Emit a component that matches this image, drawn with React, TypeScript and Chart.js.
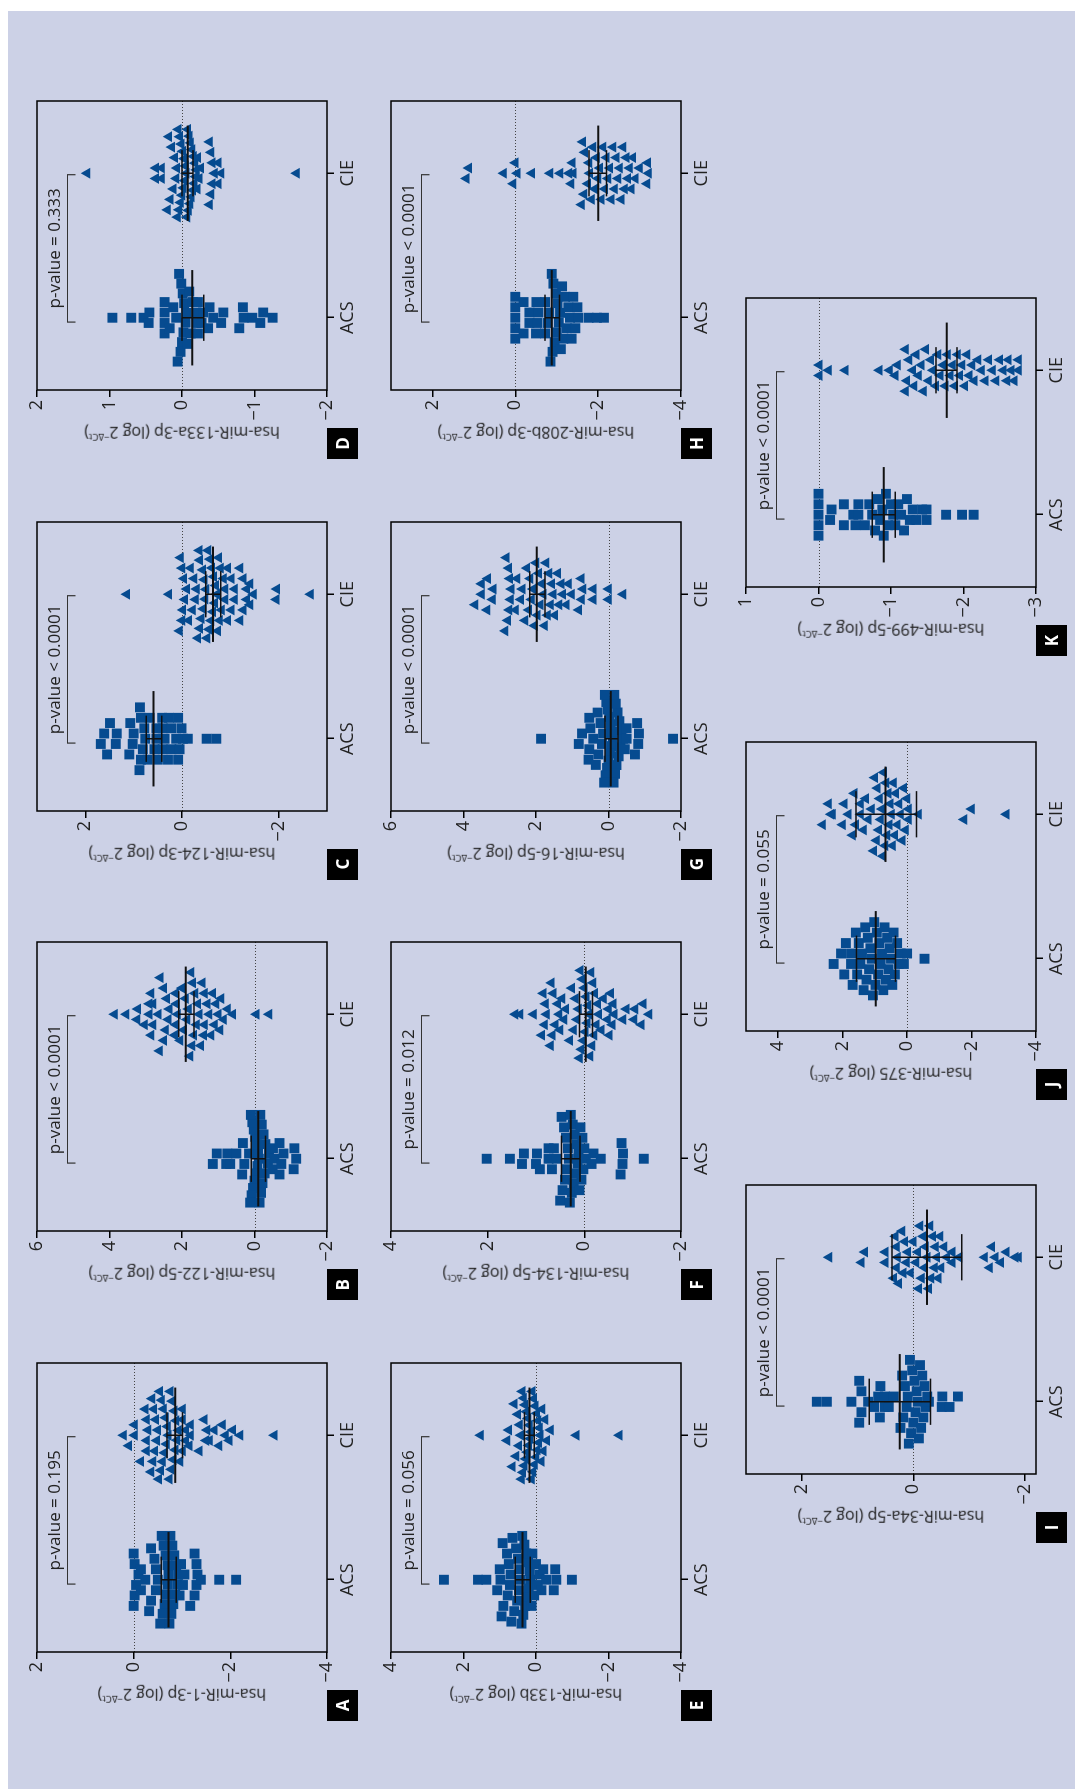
import React, { useEffect, useRef } from "react";
import Chart from "chart.js/auto";

const categories = ["ACS", "CIE"];

// A: hsa-miR-1-3p
const aAcs = [0.0, 0.0, -0.02, -0.02, -0.05, -0.1, -0.15, -0.15, -0.24, -0.32, -0.36, -0.36, -0.43, -0.46, -0.46, -0.5, -0.55, -0.58, -0.6, -0.62, -0.64, -0.66, -0.68, -0.7, -0.7, -0.72, -0.74, -0.76, -0.78, -0.8, -0.82, -0.84, -0.86, -0.88, -0.9, -0.92, -0.95, -0.98, -1.02, -1.05, -1.17, -1.26, -1.26, -1.3, -1.3, -1.32, -1.39, -1.77, -2.12];
const aCie = [0.21, 0.1, -0.02, -0.02, -0.15, -0.24, -0.27, -0.27, -0.27, -0.3, -0.36, -0.38, -0.4, -0.42, -0.44, -0.46, -0.48, -0.5, -0.52, -0.54, -0.56, -0.58, -0.6, -0.62, -0.64, -0.66, -0.68, -0.7, -0.72, -0.74, -0.76, -0.78, -0.8, -0.82, -0.84, -0.86, -0.88, -0.9, -0.93, -0.96, -1.01, -1.01, -1.01, -1.08, -1.08, -1.15, -1.18, -1.18, -1.36, -1.46, -1.5, -1.52, -1.57, -1.67, -1.77, -1.84, -1.9, -1.98, -2.05, -2.2, -2.91];
const aBars = [[-0.72, -0.57, -0.88], [-0.86, -0.69, -1.01]];
const aTicks = [2, 0, -2, -4];

// B: hsa-miR-122-5p
const bAcs = [1.15, 1.04, 0.78, 0.75, 0.67, 0.5, 0.34, 0.32, 0.28, 0.15, 0.12, 0.1, 0.08, 0.06, 0.04, 0.02, 0.0, -0.02, -0.04, -0.06, -0.08, -0.1, -0.12, -0.14, -0.16, -0.18, -0.2, -0.22, -0.25, -0.28, -0.3, -0.37, -0.4, -0.5, -0.51, -0.55, -0.69, -0.69, -0.74, -0.8, -1.08, -1.1, -1.15];
const bCie = [3.86, 3.54, 3.24, 3.22, 3.03, 2.9, 2.9, 2.85, 2.85, 2.8, 2.8, 2.65, 2.62, 2.6, 2.5, 2.5, 2.45, 2.42, 2.38, 2.35, 2.2, 2.17, 2.17, 2.15, 2.12, 2.05, 2.0, 1.95, 1.9, 1.86, 1.82, 1.78, 1.75, 1.72, 1.7, 1.67, 1.64, 1.6, 1.56, 1.52, 1.48, 1.44, 1.4, 1.38, 1.38, 1.3, 1.25, 1.2, 1.15, 1.1, 1.06, 1.0, 0.95, 0.92, 0.85, 0.74, 0.6, -0.05, -0.4];
const bBars = [[-0.1, 0.09, -0.3], [1.9, 2.09, 1.67]];
const bTicks = [6, 4, 2, 0, -2];

// C: hsa-miR-124-3p
const cAcs = [1.68, 1.61, 1.55, 1.49, 1.37, 1.35, 1.09, 1.07, 1.02, 1.0, 0.88, 0.87, 0.85, 0.85, 0.81, 0.78, 0.76, 0.71, 0.67, 0.57, 0.53, 0.53, 0.5, 0.41, 0.4, 0.4, 0.36, 0.29, 0.27, 0.22, 0.22, 0.12, 0.08, 0.08, 0.05, 0.01, -0.02, -0.12, -0.51, -0.71];
const cCie = [1.14, 0.27, 0.05, 0.03, 0.0, 0.0, -0.02, -0.04, -0.06, -0.1, -0.14, -0.18, -0.22, -0.25, -0.28, -0.3, -0.33, -0.36, -0.37, -0.37, -0.4, -0.43, -0.44, -0.46, -0.48, -0.5, -0.52, -0.54, -0.56, -0.58, -0.6, -0.62, -0.64, -0.66, -0.68, -0.7, -0.72, -0.74, -0.76, -0.78, -0.8, -0.82, -0.86, -0.89, -0.89, -0.95, -0.95, -1.02, -1.02, -1.09, -1.09, -1.2, -1.2, -1.27, -1.27, -1.34, -1.34, -1.41, -1.41, -1.48, -1.95, -1.96, -2.66];
const cBars = [[0.59, 0.74, 0.42], [-0.64, -0.49, -0.8]];
const cTicks = [2, 0, -2];

// D: hsa-miR-133a-3p
const dAcs = [0.96, 0.7, 0.53, 0.46, 0.45, 0.24, 0.24, 0.24, 0.24, 0.17, 0.12, 0.08, 0.06, 0.04, 0.02, 0.01, 0.0, -0.01, -0.02, -0.03, -0.05, -0.06, -0.08, -0.1, -0.12, -0.15, -0.2, -0.2, -0.22, -0.22, -0.27, -0.29, -0.36, -0.38, -0.43, -0.54, -0.57, -0.79, -0.84, -0.85, -0.97, -1.08, -1.12, -1.25];
const dCie = [1.31, 0.36, 0.36, 0.28, 0.28, 0.2, 0.18, 0.16, 0.14, 0.12, 0.1, 0.08, 0.07, 0.06, 0.05, 0.04, 0.03, 0.02, 0.01, 0.0, -0.01, -0.02, -0.03, -0.04, -0.05, -0.06, -0.07, -0.08, -0.09, -0.1, -0.11, -0.12, -0.13, -0.14, -0.15, -0.16, -0.17, -0.18, -0.19, -0.2, -0.21, -0.22, -0.24, -0.26, -0.38, -0.38, -0.4, -0.4, -0.42, -0.42, -0.45, -0.5, -0.5, -0.54, -1.58];
const dBars = [[-0.14, 0.0, -0.3], [-0.08, 0.0, -0.15]];
const dTicks = [2, 1, 0, -1, -2];

// E: hsa-miR-133b
const eAcs = [2.54, 1.6, 1.37, 1.07, 1.0, 0.98, 0.95, 0.92, 0.9, 0.8, 0.78, 0.75, 0.72, 0.7, 0.68, 0.65, 0.6, 0.55, 0.52, 0.5, 0.47, 0.45, 0.42, 0.4, 0.38, 0.35, 0.32, 0.3, 0.27, 0.25, 0.22, 0.2, 0.17, 0.15, 0.12, 0.1, 0.05, 0.0, -0.05, -0.1, -0.15, -0.2, -0.28, -0.49, -0.53, -0.56, -0.99];
const eCie = [1.53, 0.8, 0.75, 0.65, 0.6, 0.55, 0.5, 0.47, 0.45, 0.42, 0.4, 0.38, 0.36, 0.34, 0.32, 0.3, 0.28, 0.26, 0.24, 0.22, 0.2, 0.18, 0.16, 0.14, 0.12, 0.1, 0.08, 0.06, 0.04, 0.02, 0.0, -0.02, -0.04, -0.06, -0.08, -0.1, -0.12, -0.15, -0.17, -0.2, -0.25, -0.3, -0.4, -1.11, -2.3];
const eBars = [[0.37, 0.57, 0.16], [0.18, 0.32, 0.05]];
const eTicks = [4, 2, 0, -2, -4];

// F: hsa-miR-134-5p
const fAcs = [2.02, 1.54, 1.29, 1.25, 1.0, 0.98, 0.92, 0.74, 0.74, 0.67, 0.63, 0.57, 0.5, 0.47, 0.45, 0.42, 0.4, 0.38, 0.36, 0.34, 0.32, 0.3, 0.28, 0.26, 0.24, 0.22, 0.2, 0.18, 0.16, 0.14, 0.12, 0.1, 0.08, 0.06, 0.04, 0.02, 0.0, -0.03, -0.15, -0.19, -0.34, -0.75, -0.77, -0.79, -0.8, -1.23];
const fCie = [1.43, 1.33, 1.05, 0.88, 0.85, 0.82, 0.8, 0.78, 0.7, 0.68, 0.66, 0.64, 0.6, 0.55, 0.52, 0.5, 0.46, 0.42, 0.38, 0.3, 0.26, 0.22, 0.18, 0.15, 0.12, 0.1, 0.08, 0.06, 0.04, 0.02, 0.0, -0.02, -0.04, -0.06, -0.08, -0.1, -0.12, -0.14, -0.16, -0.18, -0.2, -0.22, -0.25, -0.28, -0.3, -0.35, -0.4, -0.48, -0.5, -0.52, -0.55, -0.58, -0.6, -0.62, -0.8, -0.87, -1.03, -1.05, -1.18, -1.22, -1.34];
const fBars = [[0.28, 0.47, 0.09], [-0.03, 0.1, -0.17]];
const fTicks = [4, 2, 0, -2];

// G: hsa-miR-16-5p
const gAcs = [1.86, 0.82, 0.73, 0.55, 0.53, 0.53, 0.5, 0.42, 0.35, 0.3, 0.28, 0.22, 0.18, 0.15, 0.12, 0.1, 0.08, 0.06, 0.04, 0.02, 0.0, -0.02, -0.04, -0.06, -0.08, -0.1, -0.12, -0.14, -0.16, -0.18, -0.2, -0.22, -0.25, -0.28, -0.3, -0.33, -0.36, -0.4, -0.45, -0.5, -0.5, -0.73, -0.79, -0.82, -0.84, -1.78];
const gCie = [3.68, 3.5, 3.5, 3.35, 3.33, 3.2, 3.18, 2.85, 2.82, 2.78, 2.75, 2.74, 2.72, 2.7, 2.68, 2.56, 2.52, 2.42, 2.38, 2.3, 2.25, 2.2, 2.16, 2.12, 2.08, 2.04, 2.0, 1.96, 1.92, 1.88, 1.84, 1.8, 1.76, 1.72, 1.68, 1.64, 1.6, 1.56, 1.52, 1.48, 1.4, 1.36, 1.3, 1.26, 1.16, 1.1, 1.02, 0.82, 0.75, 0.74, 0.7, 0.42, 0.42, 0.0, 0.0, -0.4];
const gBars = [[-0.06, 0.1, -0.26], [1.98, 2.17, 1.75]];
const gTicks = [6, 4, 2, 0, -2];

// H: hsa-miR-208b-3p
const hAcs = [0.0, 0.0, 0.0, 0.0, 0.0, -0.2, -0.2, -0.34, -0.34, -0.5, -0.51, -0.53, -0.56, -0.72, -0.72, -0.78, -0.82, -0.85, -0.88, -0.9, -0.92, -0.95, -0.98, -1.0, -1.02, -1.05, -1.08, -1.1, -1.13, -1.16, -1.2, -1.24, -1.28, -1.32, -1.36, -1.4, -1.45, -1.5, -1.52, -1.77, -1.97, -2.14];
const hCie = [1.18, 1.12, 0.28, 0.05, 0.0, -0.05, -0.4, -0.84, -1.08, -1.3, -1.35, -1.38, -1.4, -1.6, -1.63, -1.66, -1.68, -1.75, -1.78, -1.8, -1.84, -1.88, -1.92, -1.96, -2.0, -2.04, -2.08, -2.12, -2.16, -2.2, -2.24, -2.28, -2.32, -2.36, -2.4, -2.44, -2.48, -2.52, -2.56, -2.6, -2.64, -2.68, -2.72, -2.76, -2.8, -2.84, -2.9, -3.0, -3.18, -3.2, -3.22];
const hBars = [[-0.88, -0.72, -1.07], [-2.0, -1.78, -2.2]];
const hTicks = [2, 0, -2, -4];

// I: hsa-miR-34a-5p
const iAcs = [1.73, 1.55, 1.11, 0.97, 0.97, 0.93, 0.93, 0.81, 0.7, 0.63, 0.6, 0.59, 0.51, 0.51, 0.44, 0.35, 0.23, 0.2, 0.18, 0.15, 0.12, 0.1, 0.08, 0.06, 0.04, 0.02, 0.0, -0.02, -0.04, -0.06, -0.08, -0.1, -0.12, -0.14, -0.16, -0.18, -0.2, -0.22, -0.25, -0.28, -0.51, -0.52, -0.65, -0.8];
const iCie = [1.51, 0.93, 0.87, 0.5, 0.5, 0.35, 0.32, 0.3, 0.3, 0.28, 0.26, 0.2, 0.18, 0.15, 0.12, 0.1, 0.05, 0.0, -0.05, -0.08, -0.1, -0.12, -0.15, -0.18, -0.2, -0.22, -0.25, -0.28, -0.3, -0.32, -0.35, -0.38, -0.4, -0.42, -0.45, -0.48, -0.5, -0.55, -0.6, -0.7, -0.7, -0.82, -1.28, -1.37, -1.41, -1.47, -1.57, -1.67, -1.83, -1.89];
const iBars = [[0.245, 0.79, -0.31], [-0.245, 0.38, -0.87]];
const iTicks = [2, 0, -2];

// J: hsa-miR-375
const jAcs = [2.28, 2.05, 1.95, 1.9, 1.74, 1.74, 1.69, 1.59, 1.55, 1.5, 1.45, 1.4, 1.35, 1.3, 1.26, 1.22, 1.18, 1.14, 1.1, 1.06, 1.02, 0.98, 0.94, 0.9, 0.86, 0.82, 0.78, 0.74, 0.7, 0.66, 0.62, 0.58, 0.54, 0.5, 0.46, 0.42, 0.38, 0.31, 0.26, 0.2, 0.1, 0.0, -0.54];
const jCie = [2.62, 2.44, 2.36, 2.31, 2.0, 1.95, 1.82, 1.69, 1.64, 1.59, 1.44, 1.44, 1.35, 1.28, 1.2, 1.1, 1.03, 1.0, 0.95, 0.92, 0.88, 0.85, 0.82, 0.78, 0.75, 0.72, 0.68, 0.65, 0.62, 0.58, 0.55, 0.52, 0.48, 0.45, 0.42, 0.38, 0.35, 0.3, 0.25, 0.2, 0.15, 0.1, 0.05, 0.0, -0.05, -0.05, -0.36, -1.77, -2.0, -3.08];
const jBars = [[0.97, 1.57, 0.36], [0.67, 1.59, -0.29]];
const jTicks = [4, 2, 0, -2, -4];

// K: hsa-miR-499-5p
const kAcs = [0.0, 0.0, 0.0, 0.0, 0.0, -0.16, -0.18, -0.35, -0.35, -0.48, -0.51, -0.55, -0.55, -0.64, -0.7, -0.74, -0.78, -0.82, -0.85, -0.88, -0.9, -0.93, -0.96, -1.0, -1.03, -1.06, -1.1, -1.14, -1.18, -1.22, -1.26, -1.3, -1.35, -1.43, -1.49, -1.49, -1.76, -1.98, -2.14];
const kCie = [-0.01, -0.01, -0.14, -0.37, -0.84, -0.98, -1.06, -1.09, -1.2, -1.2, -1.22, -1.25, -1.3, -1.32, -1.35, -1.38, -1.42, -1.45, -1.48, -1.52, -1.55, -1.58, -1.62, -1.65, -1.68, -1.72, -1.75, -1.78, -1.82, -1.85, -1.88, -1.92, -1.95, -1.98, -2.02, -2.05, -2.08, -2.12, -2.15, -2.2, -2.25, -2.3, -2.35, -2.4, -2.45, -2.5, -2.55, -2.6, -2.62, -2.66, -2.7, -2.76, -2.76];
const kBars = [[-0.9, -0.74, -1.06], [-1.77, -1.62, -1.91]];
const kTicks = [1, 0, -1, -2, -3];

interface PanelDef {
  letter: string;
  gene: string;
  pText: string;
  acs: number[];
  cie: number[];
  bars: number[][];
  ticks: number[];
  min: number;
  max: number;
  left: number;
  top: number;
}

// positions are in the landscape figure, which is turned a quarter turn at the end
const COLS = [137, 557.7, 978.3, 1399];
const panels: PanelDef[] = [
  { letter: "A", gene: "hsa-miR-1-3p", pText: "p-value = 0.195", acs: aAcs, cie: aCie, bars: aBars, ticks: aTicks, min: -4, max: 2, left: COLS[0], top: 37 },
  { letter: "B", gene: "hsa-miR-122-5p", pText: "p-value < 0.0001", acs: bAcs, cie: bCie, bars: bBars, ticks: bTicks, min: -2, max: 6, left: COLS[1], top: 37 },
  { letter: "C", gene: "hsa-miR-124-3p", pText: "p-value < 0.0001", acs: cAcs, cie: cCie, bars: cBars, ticks: cTicks, min: -3, max: 3, left: COLS[2], top: 37 },
  { letter: "D", gene: "hsa-miR-133a-3p", pText: "p-value = 0.333", acs: dAcs, cie: dCie, bars: dBars, ticks: dTicks, min: -2, max: 2, left: COLS[3], top: 37 },
  { letter: "E", gene: "hsa-miR-133b", pText: "p-value = 0.056", acs: eAcs, cie: eCie, bars: eBars, ticks: eTicks, min: -4, max: 4, left: COLS[0], top: 391 },
  { letter: "F", gene: "hsa-miR-134-5p", pText: "p-value = 0.012", acs: fAcs, cie: fCie, bars: fBars, ticks: fTicks, min: -2, max: 4, left: COLS[1], top: 391 },
  { letter: "G", gene: "hsa-miR-16-5p", pText: "p-value < 0.0001", acs: gAcs, cie: gCie, bars: gBars, ticks: gTicks, min: -2, max: 6, left: COLS[2], top: 391 },
  { letter: "H", gene: "hsa-miR-208b-3p", pText: "p-value < 0.0001", acs: hAcs, cie: hCie, bars: hBars, ticks: hTicks, min: -4, max: 3, left: COLS[3], top: 391 },
  { letter: "I", gene: "hsa-miR-34a-5p", pText: "p-value < 0.0001", acs: iAcs, cie: iCie, bars: iBars, ticks: iTicks, min: -2.2, max: 3, left: 315, top: 746 },
  { letter: "J", gene: "hsa-miR-375", pText: "p-value = 0.055", acs: jAcs, cie: jCie, bars: jBars, ticks: jTicks, min: -4, max: 5, left: 758, top: 746 },
  { letter: "K", gene: "hsa-miR-499-5p", pText: "p-value < 0.0001", acs: kAcs, cie: kCie, bars: kBars, ticks: kTicks, min: -3, max: 1, left: 1202, top: 746 },
];

const PW = 290;
const PH = 290;
const AXW = 60;
const PADT = 14;
const AXH = 40;
const BLUE = "#064b90";
const FONT = "'Open Sans', 'Noto Sans', sans-serif";

// beeswarm: bin by marker height, spread each bin sideways (lowest in the middle)
function swarm(values: number[], center: number, min: number, max: number) {
  const yUnit = PH / (max - min);
  const xUnit = PW / 2;
  const h = 10 / yUnit;
  const bins = new Map<number, number[]>();
  values.forEach((v) => {
    const b = Math.round(v / h);
    if (!bins.has(b)) bins.set(b, []);
    bins.get(b)!.push(v);
  });
  const pts: { x: number; y: number }[] = [];
  bins.forEach((list) => {
    list.sort((a, b) => a - b);
    const n = list.length;
    const step = n > 1 ? Math.min(10.5, 88 / (n - 1)) : 0;
    const slots = Array.from({ length: n }, (_, i) => i - (n - 1) / 2).sort(
      (a, b) => Math.abs(a) - Math.abs(b) || b - a
    );
    list.forEach((v, i) => pts.push({ x: center + (slots[i] * step) / xUnit, y: v }));
  });
  return pts;
}

const fmt = (v: number) => (v < 0 ? "\u2212" + Math.abs(v) : String(v));

const Panel: React.FC<{ p: PanelDef }> = ({ p }) => {
  const chartRef = useRef<HTMLCanvasElement | null>(null);

  useEffect(() => {
    if (!chartRef.current) return;
    const overlay = {
      id: "overlay" + p.letter,
      beforeDatasetsDraw(chart: any) {
        const { ctx, chartArea: a, scales } = chart;
        const y0 = Math.round(scales.y.getPixelForValue(0)) + 0.5;
        ctx.save();
        ctx.strokeStyle = "#444";
        ctx.lineWidth = 1;
        ctx.setLineDash([1, 2]);
        ctx.beginPath();
        ctx.moveTo(a.left, y0);
        ctx.lineTo(a.right, y0);
        ctx.stroke();
        ctx.restore();
      },
      afterDatasetsDraw(chart: any) {
        const { ctx, chartArea: a, scales } = chart;
        const x = scales.x;
        const y = scales.y;
        ctx.save();
        ctx.strokeStyle = "#111";
        p.bars.forEach(([mid, hi, lo], i) => {
          const cx = x.getPixelForValue(i);
          ctx.lineWidth = 2;
          ctx.beginPath();
          ctx.moveTo(x.getPixelForValue(i - 0.33), y.getPixelForValue(mid));
          ctx.lineTo(x.getPixelForValue(i + 0.33), y.getPixelForValue(mid));
          ctx.stroke();
          ctx.lineWidth = 1.5;
          ctx.beginPath();
          ctx.moveTo(cx, y.getPixelForValue(hi));
          ctx.lineTo(cx, y.getPixelForValue(lo));
          [hi, lo].forEach((v) => {
            ctx.moveTo(x.getPixelForValue(i - 0.16), y.getPixelForValue(v));
            ctx.lineTo(x.getPixelForValue(i + 0.16), y.getPixelForValue(v));
          });
          ctx.stroke();
        });
        // bracket + p-value
        const bx0 = x.getPixelForValue(-0.03);
        const bx1 = x.getPixelForValue(0.99);
        const by = a.top + 30.5;
        ctx.strokeStyle = "#333";
        ctx.lineWidth = 1.2;
        ctx.beginPath();
        ctx.moveTo(bx0, by + 8);
        ctx.lineTo(bx0, by);
        ctx.lineTo(bx1, by);
        ctx.lineTo(bx1, by + 8);
        ctx.stroke();
        ctx.fillStyle = "#222";
        ctx.font = `17px ${FONT}`;
        ctx.textAlign = "center";
        ctx.textBaseline = "alphabetic";
        ctx.fillText(p.pText, (bx0 + bx1) / 2, a.top + 23);
        // frame
        ctx.strokeStyle = "#000";
        ctx.lineWidth = 1.5;
        ctx.strokeRect(a.left, a.top, a.right - a.left, a.bottom - a.top);
        ctx.restore();
      },
    };

    const tickFont = { family: FONT, size: 18 };
    const grid = {
      display: true,
      drawOnChartArea: false,
      drawTicks: true,
      tickLength: 7,
      color: "#000",
      lineWidth: 1.5,
    };

    const chart = new Chart(chartRef.current, {
      type: "scatter",
      data: {
        datasets: [
          {
            label: categories[0],
            data: swarm(p.acs, 0, p.min, p.max),
            pointStyle: "rect",
            pointRadius: 7,
            pointBackgroundColor: BLUE,
            pointBorderWidth: 0,
          },
          {
            label: categories[1],
            data: swarm(p.cie, 1, p.min, p.max),
            pointStyle: "triangle",
            pointRadius: 6.3,
            pointBackgroundColor: BLUE,
            pointBorderWidth: 0,
          },
        ],
      },
      options: {
        animation: false,
        responsive: false,
        events: [],
        layout: { padding: { left: 0, top: PADT, right: 6, bottom: 0 } },
        plugins: { legend: { display: false }, tooltip: { enabled: false } },
        scales: {
          x: {
            type: "linear",
            min: -0.5,
            max: 1.5,
            grid,
            border: { display: false },
            afterBuildTicks: (axis: any) => {
              axis.ticks = categories.map((_, i) => ({ value: i }));
            },
            afterFit: (axis: any) => {
              axis.height = AXH;
            },
            ticks: {
              font: tickFont,
              color: "#222",
              padding: 3,
              maxRotation: 0,
              autoSkip: false,
              callback: (v: any) => categories[Math.round(Number(v))],
            },
          },
          y: {
            type: "linear",
            min: p.min,
            max: p.max,
            grid,
            border: { display: false },
            afterBuildTicks: (axis: any) => {
              axis.ticks = p.ticks.map((v) => ({ value: v }));
            },
            afterFit: (axis: any) => {
              axis.width = AXW;
            },
            ticks: {
              font: tickFont,
              color: "#222",
              padding: 3,
              autoSkip: false,
              callback: (v: any) => fmt(Number(v)),
            },
          },
        },
      },
      plugins: [overlay],
    });

    return () => {
      chart.destroy();
    };
  }, [p]);

  const w = AXW + PW + 6;
  const h = PADT + PH + AXH;
  return (
    <>
      <canvas
        ref={chartRef}
        width={w}
        height={h}
        style={{ position: "absolute", left: p.left - AXW, top: p.top - PADT, width: w, height: h }}
      />
      <div
        style={{
          position: "absolute",
          left: p.left - 45,
          top: p.top + PH / 2,
          transform: "translate(-50%, -50%) rotate(-90deg)",
          whiteSpace: "nowrap",
          fontFamily: FONT,
          fontSize: 16,
          color: "#222",
          lineHeight: "19px",
        }}
      >
        {p.gene} (log 2<sup style={{ fontSize: "0.6em", verticalAlign: "0.7em" }}>{"\u2212\u0394Ct"}</sup>)
      </div>
      <div
        style={{
          position: "absolute",
          left: p.left - 69,
          top: p.top + PH,
          width: 31,
          height: 31,
          background: "#000",
          color: "#fff",
          fontFamily: FONT,
          fontWeight: 700,
          fontSize: 17,
          display: "flex",
          alignItems: "center",
          justifyContent: "center",
        }}
      >
        {p.letter}
      </div>
    </>
  );
};

export default function App() {
  useEffect(() => {
    document.body.style.margin = "0";
    document.body.style.overflow = "hidden";
  }, []);

  return (
    <div
      style={{
        position: "absolute",
        left: 0,
        top: 0,
        width: 1789,
        height: 1075,
        background: "#fff",
        transformOrigin: "0 0",
        transform: "translate(0px, 1789px) rotate(-90deg)",
        overflow: "hidden",
      }}
    >
      <div style={{ position: "absolute", left: 0, top: 8, width: 1778, height: 1067, background: "#ccd1e6" }} />
      {panels.map((p) => (
        <Panel key={p.letter} p={p} />
      ))}
    </div>
  );
}
